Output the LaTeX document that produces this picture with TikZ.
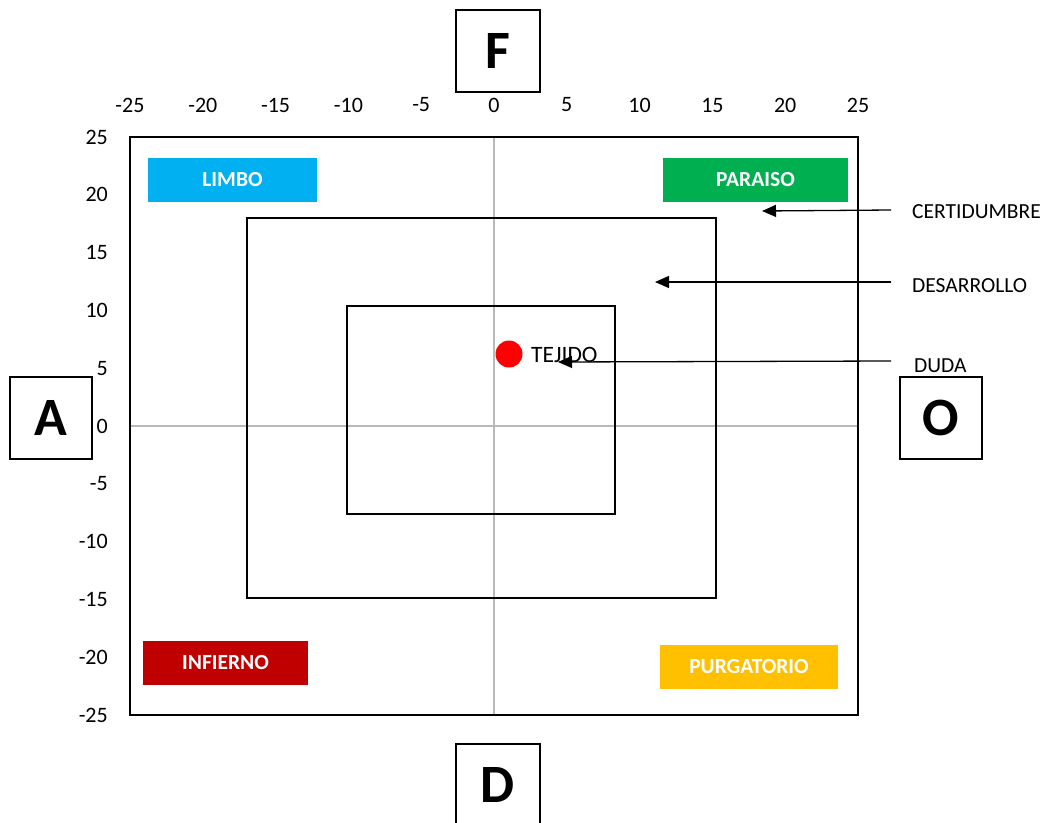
\documentclass[tikz,border=0pt]{standalone}
\usepackage{fontspec}
\setmainfont{Carlito}
\usetikzlibrary{arrows.meta}
\definecolor{limbo}{HTML}{00B0F0}
\definecolor{paraiso}{HTML}{00B050}
\definecolor{infierno}{HTML}{C00000}
\definecolor{purga}{HTML}{FFC000}
\begin{document}
\begin{tikzpicture}[x=1pt,y=-1pt,
  tick/.style={font=\fontsize{22}{26}\selectfont, inner sep=0pt},
  lbl/.style={font=\fontsize{21.5}{25}\selectfont, inner sep=0pt, anchor=west},
  zone/.style={draw=none, text=white, font=\bfseries\fontsize{21.5}{25}\selectfont, inner sep=0pt},
  letter/.style={draw=black, line width=1.5pt, font=\bfseries\fontsize{54}{60}\selectfont, inner sep=0pt},
  arr/.style={line width=1.3pt, -{Triangle[length=14pt,width=12pt]}}]
\useasboundingbox (0,0) rectangle (1043,822);
% plot frame and axes
\draw[gray!55, line width=1.5pt] (494,137) -- (494,715);
\draw[gray!55, line width=1.5pt] (130,426) -- (858,426);
\draw[line width=2pt] (130,137) rectangle (858,715);
% rectangles
\draw[line width=2.4pt] (247,218) rectangle (716,598);
\draw[line width=2.4pt] (347,306) rectangle (615,514);
% ticks top
\foreach \v in {-25,-20,...,25} {
  \node[tick] (tx\v) at ({494+14.56*\v},105) {\v};
}
% ticks left
\foreach \v in {-25,-20,...,25} {
  \node[tick, anchor=east] (ty\v) at (108,{426-11.56*\v}) {\v};
}
% zone labels
\node[zone, fill=limbo, minimum width=169pt, minimum height=44pt] (limbo) at (232.5,180) {LIMBO};
\node[zone, fill=paraiso, minimum width=185pt, minimum height=44pt] (paraiso) at (755.5,180) {PARAISO};
\node[zone, fill=infierno, minimum width=165pt, minimum height=44pt] (infierno) at (225.5,663) {INFIERNO};
\node[zone, fill=purga, minimum width=178pt, minimum height=44pt] (purga) at (749,667) {PURGATORIO};
% letters
\node[letter, minimum width=84pt, minimum height=82pt] (F) at (498,51) {F};
\node[letter, minimum width=82pt, minimum height=82pt] (A) at (51,418) {A};
\node[letter, minimum width=82pt, minimum height=82pt] (O) at (941,418) {O};
\node[letter, minimum width=84pt, minimum height=82pt] (D) at (498,785) {D};
% dot
\fill[red] (509,354) circle (13.5pt);
\node[lbl, font=\fontsize{23.5}{27}\selectfont] (tejido) at (531,355) {TEJIDO};
% side labels
\node[lbl] (cert) at (912,212) {CERTIDUMBRE};
\node[lbl] (desa) at (912,286) {DESARROLLO};
\node[lbl] (duda) at (914,366) {DUDA};
\coordinate (c1) at (891,210);
\coordinate (c2) at (762,211);
\coordinate (d1) at (891,282);
\coordinate (d2) at (655,282);
\coordinate (u1) at (891,361);
\coordinate (u2) at (558,362);
\draw[arr] (c1) -- (c2);
\draw[arr] (d1) -- (d2);
\draw[arr] (u1) -- (u2);
\end{tikzpicture}
\end{document}
